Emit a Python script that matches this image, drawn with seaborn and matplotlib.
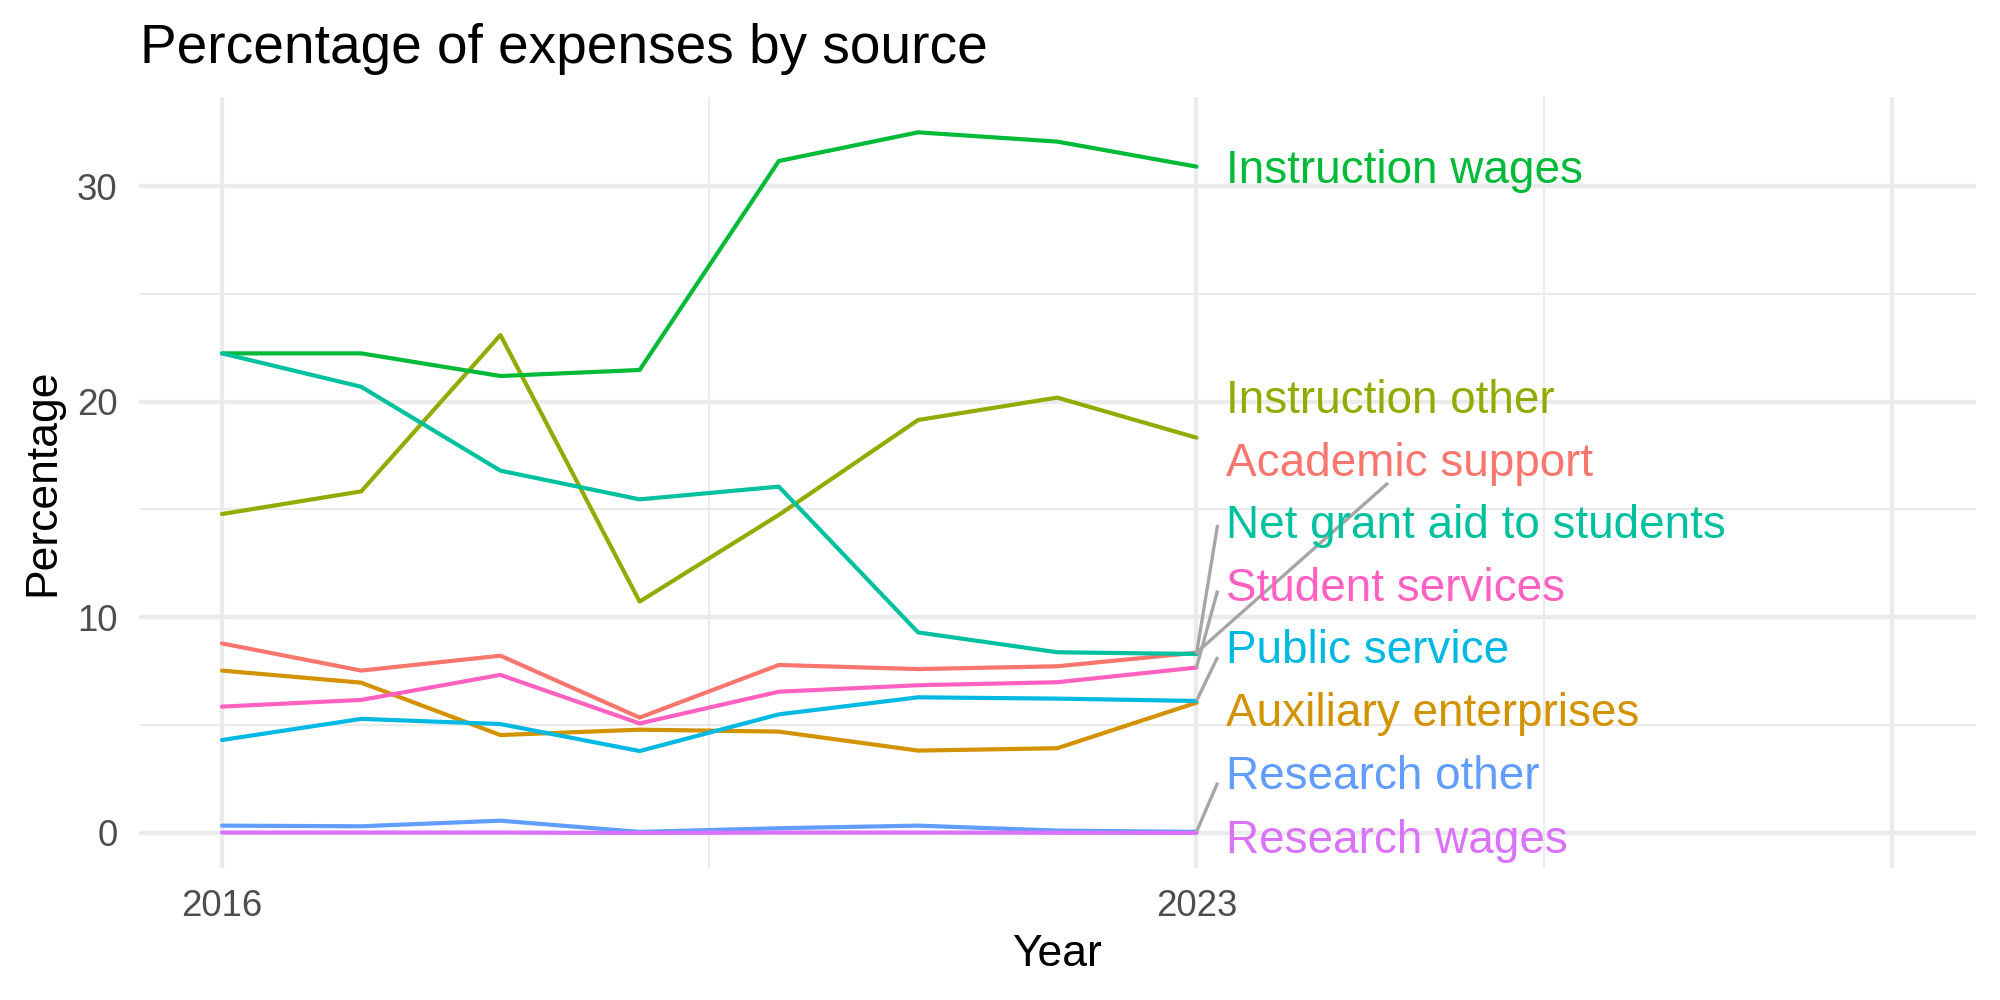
import matplotlib
matplotlib.use("Agg")
import matplotlib.pyplot as plt
import seaborn as sns
import pandas as pd
import numpy as np

# data
years = [2016, 2017, 2018, 2019, 2020, 2021, 2022, 2023]

academic_support = [8.79, 7.53, 8.22, 5.35, 7.79, 7.60, 7.73, 8.36]
auxiliary_enterprises = [7.53, 6.97, 4.54, 4.79, 4.70, 3.82, 3.93, 6.04]
instruction_other = [14.79, 15.84, 23.09, 10.73, 14.75, 19.15, 20.19, 18.33]
instruction_wages = [22.24, 22.24, 21.19, 21.47, 31.16, 32.49, 32.06, 30.90]
net_grant_aid = [22.24, 20.69, 16.80, 15.47, 16.06, 9.30, 8.38, 8.30]
public_service = [4.31, 5.29, 5.05, 3.80, 5.50, 6.29, 6.23, 6.12]
research_other = [0.34, 0.31, 0.57, 0.05, 0.22, 0.34, 0.11, 0.05]
research_wages = [0.02, 0.02, 0.02, 0.00, 0.02, 0.02, 0.01, 0.00]
student_services = [5.86, 6.17, 7.33, 5.08, 6.55, 6.85, 6.99, 7.67]

sources = ["Academic support", "Auxiliary enterprises", "Instruction other",
           "Instruction wages", "Net grant aid to students", "Public service",
           "Research other", "Research wages", "Student services"]
series = [academic_support, auxiliary_enterprises, instruction_other,
          instruction_wages, net_grant_aid, public_service,
          research_other, research_wages, student_services]

# ggplot default hue palette for 9 groups
colors = ["#F8766D", "#D39200", "#93AA00", "#00BA38", "#00C19F",
          "#00B9E3", "#619CFF", "#DB72FB", "#FF61C3"]

# repelled label positions (baseline, in data units) and leader segment ends
label_x = 2023.21
label_y = {"Instruction wages": 30.16, "Instruction other": 19.49,
           "Academic support": 16.56, "Net grant aid to students": 13.67,
           "Student services": 10.77, "Public service": 7.87,
           "Auxiliary enterprises": 4.96, "Research other": 2.03,
           "Research wages": -0.91}
segment_end = {"Academic support": (2024.376, 16.23),
               "Net grant aid to students": (2023.152, 14.29),
               "Student services": (2023.152, 11.24),
               "Public service": (2023.152, 8.16),
               "Research other": (2023.152, 2.33)}

df = pd.DataFrame({
    "Year": np.tile(years, len(sources)),
    "Percentage": np.concatenate(series),
    "Source": np.repeat(sources, len(years)),
})

sns.set_theme(style="white")
plt.rcParams["font.family"] = ["Liberation Sans", "DejaVu Sans"]

fig = plt.figure(figsize=(10, 5), dpi=200)
ax = fig.add_axes([0.06925, 0.132, 0.988 - 0.06925, 0.9027 - 0.132])

grid_col = "#EBEBEB"
ax.set_xticks([2016, 2023, 2028])
ax.set_xticklabels(["2016", "2023", ""])
ax.set_xticks([2019.5, 2025.5], minor=True)
ax.set_yticks([0, 10, 20, 30])
ax.set_yticks([5, 15, 25], minor=True)
ax.grid(which="major", color=grid_col, linewidth=1.55)
ax.grid(which="minor", color=grid_col, linewidth=0.78)
ax.set_axisbelow(True)

palette = dict(zip(sources, colors))
sns.lineplot(data=df, x="Year", y="Percentage", hue="Source", palette=palette,
             linewidth=1.5, legend=False, ax=ax)

# leader segments then labels
for name, vals in zip(sources, series):
    if name in segment_end:
        xe, ye = segment_end[name]
        ax.plot([years[-1], xe], [vals[-1], ye], color="#A6A6A6",
                linewidth=1.2, solid_capstyle="butt", zorder=3)
for name in sources:
    ax.text(label_x, label_y[name], name, color=palette[name], fontsize=16.5,
            ha="left", va="baseline", zorder=4)

lo = min(min(s) for s in series)
hi = max(max(s) for s in series)
pad = (hi - lo) * 0.05
ax.set_ylim(lo - pad, hi + pad)
ax.set_xlim(2016 - 0.6, 2028 + 0.6)

for s in ax.spines.values():
    s.set_visible(False)
ax.tick_params(which="both", length=0)
ax.tick_params(axis="x", pad=7.5, labelsize=13.2, labelcolor="#4D4D4D")
ax.tick_params(axis="y", pad=7.5, labelsize=13.2, labelcolor="#4D4D4D")
ax.set_xlabel("Year", fontsize=16, color="black", labelpad=3.5)
ax.set_ylabel("Percentage", fontsize=16, color="black", labelpad=5)

fig.text(0.0699, 1 - 0.063, "Percentage of expenses by source", fontsize=19.8,
         color="black", ha="left", va="baseline")

fig.savefig("out.png", dpi=200, facecolor="white")
